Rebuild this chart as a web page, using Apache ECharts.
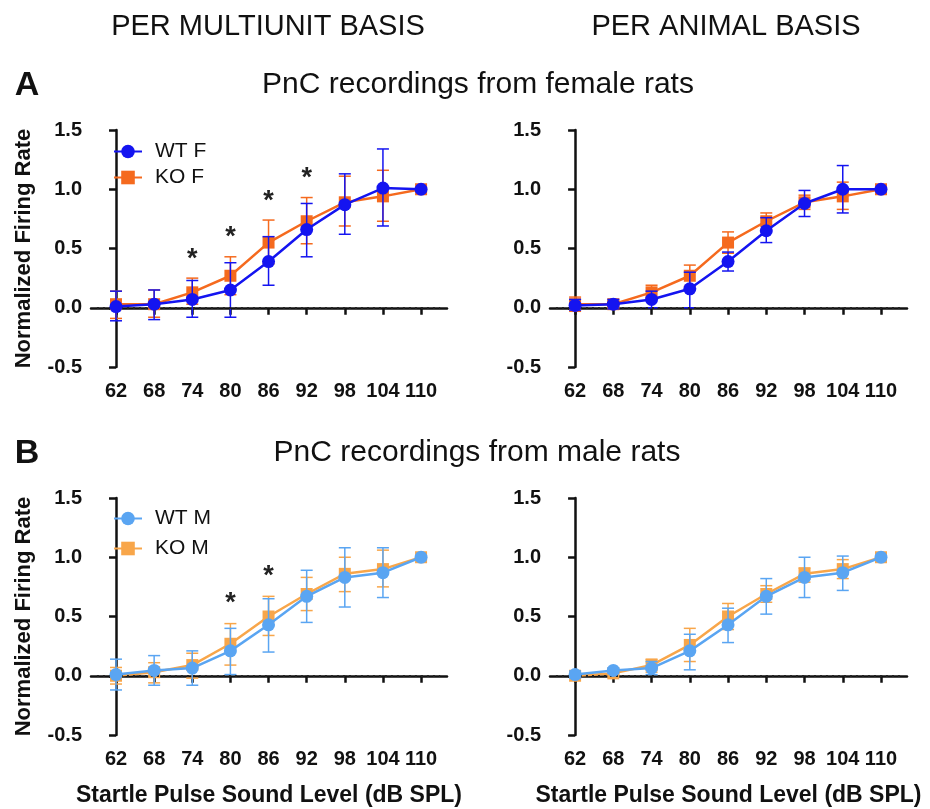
<!DOCTYPE html>
<html>
<head>
<meta charset="utf-8">
<script src="https://cdn.jsdelivr.net/npm/echarts@6/dist/echarts.min.js"></script>
<style>
  html, body { margin: 0; padding: 0; background: #fff; }
  #chart { width: 930px; height: 809px; }
</style>
</head>
<body>
<div id="chart"></div>
<script>
var levels = ['62', '68', '74', '80', '86', '92', '98', '104', '110'];

// female, per multiunit
var wtF_unit    = [0.01, 0.03, 0.07, 0.15, 0.39, 0.66, 0.87, 1.01, 1.00];
var wtF_unit_lo = [-0.11, -0.10, -0.08, -0.08, 0.19, 0.43, 0.62, 0.69, 1.00];
var wtF_unit_hi = [0.14, 0.15, 0.23, 0.38, 0.60, 0.88, 1.13, 1.34, 1.00];
var koF_unit    = [0.03, 0.03, 0.13, 0.27, 0.55, 0.73, 0.89, 0.94, 1.00];
var koF_unit_lo = [-0.09, -0.08, 0.03, 0.11, 0.37, 0.54, 0.69, 0.73, 1.00];
var koF_unit_hi = [0.14, 0.15, 0.25, 0.43, 0.74, 0.93, 1.11, 1.16, 1.00];

// female, per animal
var wtF_anim    = [0.02, 0.03, 0.07, 0.16, 0.39, 0.65, 0.88, 1.00, 1.00];
var wtF_anim_lo = [-0.02, -0.01, 0.00, 0.00, 0.31, 0.55, 0.77, 0.80, 1.00];
var wtF_anim_hi = [0.07, 0.07, 0.14, 0.30, 0.47, 0.76, 0.99, 1.20, 1.00];
var koF_anim    = [0.03, 0.03, 0.13, 0.27, 0.55, 0.73, 0.89, 0.94, 1.00];
var koF_anim_lo = [-0.03, 0.00, 0.08, 0.18, 0.46, 0.66, 0.83, 0.83, 1.00];
var koF_anim_hi = [0.09, 0.06, 0.19, 0.36, 0.64, 0.80, 0.95, 1.06, 1.00];

// male, per multiunit
var wtM_unit    = [0.01, 0.045, 0.065, 0.21, 0.43, 0.67, 0.83, 0.87, 1.00];
var wtM_unit_lo = [-0.12, -0.08, -0.08, 0.01, 0.20, 0.45, 0.58, 0.66, 1.00];
var wtM_unit_hi = [0.14, 0.17, 0.21, 0.40, 0.65, 0.89, 1.08, 1.08, 1.00];
var koM_unit    = [0.00, 0.03, 0.09, 0.27, 0.50, 0.69, 0.86, 0.90, 1.00];
var koM_unit_lo = [-0.07, -0.06, -0.02, 0.09, 0.34, 0.55, 0.71, 0.75, 1.00];
var koM_unit_hi = [0.07, 0.11, 0.19, 0.44, 0.67, 0.83, 1.00, 1.06, 1.00];

// male, per animal
var wtM_anim    = [0.01, 0.045, 0.065, 0.21, 0.43, 0.67, 0.83, 0.87, 1.00];
var wtM_anim_lo = [-0.02, 0.02, 0.01, 0.05, 0.28, 0.52, 0.66, 0.72, 1.00];
var wtM_anim_hi = [0.04, 0.065, 0.12, 0.35, 0.57, 0.82, 1.00, 1.01, 1.00];
var koM_anim    = [0.00, 0.02, 0.09, 0.26, 0.50, 0.69, 0.86, 0.90, 1.00];
var koM_anim_lo = [-0.02, 0.01, 0.03, 0.12, 0.39, 0.62, 0.79, 0.82, 1.00];
var koM_anim_hi = [0.02, 0.04, 0.14, 0.40, 0.61, 0.76, 0.91, 0.98, 1.00];

// significance marks [level index, height]
var starsF = [[2, 0.46], [3, 0.64], [4, 0.95], [5, 1.14]];
var starsM = [[3, 0.66], [4, 0.89]];

var BLUE = '#1414f0', ORANGE = '#f56a1e';
var LBLUE = '#5aa5f2', LORANGE = '#f8a64a';
var FONT = '"Liberation Sans", Arial, sans-serif';

var myChart = echarts.init(document.getElementById('chart'));

function pts(vals) {
    return vals.map(function (v, i) { return [i, v]; });
}
function bars(lo, hi) {
    var out = [];
    for (var i = 0; i < lo.length; i++) {
        if (hi[i] - lo[i] > 0.001) out.push([i, lo[i], hi[i]]);
    }
    return out;
}

function errRender(params, api) {
    var x = api.value(0);
    var top = api.coord([x, api.value(2)]);
    var bot = api.coord([x, api.value(1)]);
    var w = 6;
    var st = { stroke: api.visual('color'), lineWidth: 1.5 };
    return {
        type: 'group',
        children: [
            { type: 'line', shape: { x1: top[0], y1: top[1], x2: bot[0], y2: bot[1] }, style: st },
            { type: 'line', shape: { x1: top[0] - w, y1: top[1], x2: top[0] + w, y2: top[1] }, style: st },
            { type: 'line', shape: { x1: bot[0] - w, y1: bot[1], x2: bot[0] + w, y2: bot[1] }, style: st }
        ]
    };
}

function starRender(params, api) {
    var p = api.coord([api.value(0), api.value(1)]);
    return {
        type: 'text',
        x: p[0],
        y: p[1] + 6,
        style: {
            text: '*', fontSize: 27, fontWeight: 'bold', fontFamily: FONT, fill: '#222',
            align: 'center', verticalAlign: 'middle'
        }
    };
}

var grids = [
    { left: 91, top: 130, width: 356, height: 237 },
    { left: 550, top: 130, width: 357, height: 237 },
    { left: 91, top: 498, width: 356, height: 237 },
    { left: 550, top: 498, width: 357, height: 237 }
];

function xAxisFor(i, withName) {
    return {
        type: 'value', gridIndex: i, min: -0.656, max: 8.68,
        name: withName ? 'Startle Pulse Sound Level (dB SPL)' : '',
        nameLocation: 'middle', nameGap: 49,
        nameTextStyle: { fontSize: 23, fontWeight: 'bold', color: '#111', fontFamily: FONT },
        axisLine: { lineStyle: { color: '#111', width: 2.5 } },
        axisTick: { show: true, length: 7, lineStyle: { color: '#111', width: 2.5 }, customValues: [0, 1, 2, 3, 4, 5, 6, 7, 8] },
        axisLabel: {
            customValues: [0, 1, 2, 3, 4, 5, 6, 7, 8], margin: 14,
            fontSize: 20, fontWeight: 'bold', color: '#111', fontFamily: FONT,
            formatter: function (v) { return levels[Math.round(v)]; }
        },
        splitLine: { show: false }
    };
}
function yAxisFor(i, withName) {
    return {
        type: 'value', gridIndex: i, min: -0.5, max: 1.5, interval: 0.5,
        name: withName ? 'Normalized Firing Rate' : '',
        nameLocation: 'middle', nameGap: 56, nameRotate: 90,
        nameTextStyle: { fontSize: 22, fontWeight: 'bold', color: '#111', fontFamily: FONT },
        axisLine: { show: true, lineStyle: { color: '#111', width: 2.5 } },
        axisTick: { show: true, length: 7, lineStyle: { color: '#111', width: 2.5 } },
        axisLabel: {
            margin: 9, fontSize: 20, fontWeight: 'bold', color: '#111', fontFamily: FONT,
            formatter: function (v) { return v.toFixed(1); }
        },
        splitLine: { show: false }
    };
}

function panel(i, wtName, koName, wtColor, koColor, wt, wtLo, wtHi, ko, koLo, koHi, stars) {
    var s = [
        {
            type: 'custom', xAxisIndex: i, yAxisIndex: i, z: 2,
            renderItem: errRender, itemStyle: { color: koColor },
            encode: { x: 0, y: [1, 2] }, data: bars(koLo, koHi), silent: true
        },
        {
            name: koName, type: 'line', xAxisIndex: i, yAxisIndex: i, z: 3,
            data: pts(ko), symbol: 'rect', symbolSize: 12, showSymbol: true,
            lineStyle: { color: koColor, width: 2.5 }, itemStyle: { color: koColor },
            markLine: {
                silent: true, symbol: 'none', label: { show: false },
                lineStyle: { color: '#222', type: [2, 4], width: 2 },
                data: [[{ coord: [-0.5, 0] }, { coord: [8.5, 0] }]]
            }
        },
        {
            type: 'custom', xAxisIndex: i, yAxisIndex: i, z: 4,
            renderItem: errRender, itemStyle: { color: wtColor },
            encode: { x: 0, y: [1, 2] }, data: bars(wtLo, wtHi), silent: true
        },
        {
            name: wtName, type: 'line', xAxisIndex: i, yAxisIndex: i, z: 5,
            data: pts(wt), symbol: 'circle', symbolSize: 13, showSymbol: true,
            lineStyle: { color: wtColor, width: 2.5 }, itemStyle: { color: wtColor }
        }
    ];
    if (stars) {
        s.push({
            type: 'custom', xAxisIndex: i, yAxisIndex: i, z: 6,
            renderItem: starRender, encode: { x: 0, y: 1 }, data: stars, silent: true
        });
    }
    return s;
}

var series = [].concat(
    panel(0, 'WT F', 'KO F', BLUE, ORANGE, wtF_unit, wtF_unit_lo, wtF_unit_hi, koF_unit, koF_unit_lo, koF_unit_hi, starsF),
    panel(1, 'WT F ', 'KO F ', BLUE, ORANGE, wtF_anim, wtF_anim_lo, wtF_anim_hi, koF_anim, koF_anim_lo, koF_anim_hi, null),
    panel(2, 'WT M', 'KO M', LBLUE, LORANGE, wtM_unit, wtM_unit_lo, wtM_unit_hi, koM_unit, koM_unit_lo, koM_unit_hi, starsM),
    panel(3, 'WT M ', 'KO M ', LBLUE, LORANGE, wtM_anim, wtM_anim_lo, wtM_anim_hi, koM_anim, koM_anim_lo, koM_anim_hi, null)
);

function txt(x, y, text, size, weight) {
    return {
        type: 'text', x: x, y: y, silent: true,
        style: {
            text: text, fontSize: size, fontWeight: weight || 'normal', fontFamily: FONT,
            fill: '#111', align: 'center', verticalAlign: 'middle',
            textAlign: 'center', textVerticalAlign: 'middle'
        }
    };
}

var legendText = { fontSize: 21, color: '#111', fontFamily: FONT, padding: [0, 0, 0, 8] };

var option = {
    backgroundColor: '#fff',
    animation: false,
    grid: grids,
    xAxis: [xAxisFor(0, false), xAxisFor(1, false), xAxisFor(2, true), xAxisFor(3, true)],
    yAxis: [yAxisFor(0, true), yAxisFor(1, false), yAxisFor(2, true), yAxisFor(3, false)],
    legend: [
        {
            data: ['WT F', 'KO F'], orient: 'vertical', left: 113, top: 141, padding: 0,
            itemWidth: 28, itemHeight: 17, itemGap: 5, textStyle: legendText, selectedMode: false
        },
        {
            data: ['WT M', 'KO M'], orient: 'vertical', left: 113, top: 508, padding: 0,
            itemWidth: 28, itemHeight: 17, itemGap: 9, textStyle: legendText, selectedMode: false
        }
    ],
    graphic: [
        txt(268, 27, 'PER MULTIUNIT BASIS', 29),
        txt(726, 27, 'PER ANIMAL BASIS', 29),
        txt(27, 86, 'A', 34, 'bold'),
        txt(478, 85, 'PnC recordings from female rats', 30),
        txt(27, 454, 'B', 34, 'bold'),
        txt(477, 453, 'PnC recordings from male rats', 30)
    ],
    series: series
};
myChart.setOption(option);
</script>
</body>
</html>
